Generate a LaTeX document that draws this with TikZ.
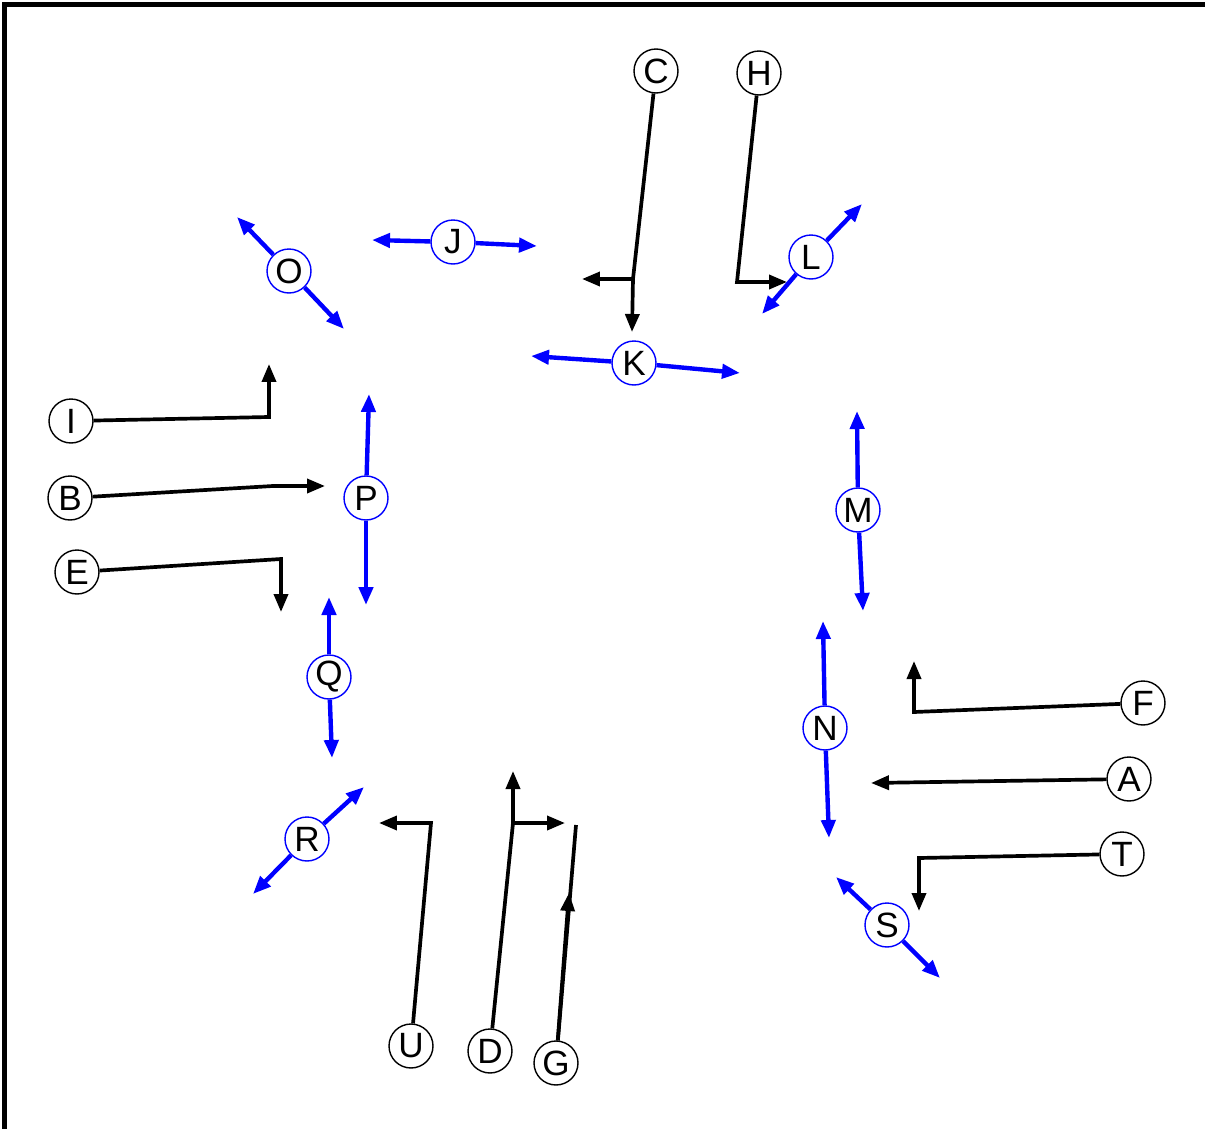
\documentclass[tikz,border=0pt]{standalone}
\usepackage{fontspec}
\setmainfont{Liberation Sans}
\usetikzlibrary{arrows.meta}

\begin{document}
\begin{tikzpicture}[x=0.02cm, y=-0.02cm,
    >={Triangle[length=3.6mm, width=2.8mm]},
    player/.style={circle, draw=black, fill=white, line width=0.8pt,
        minimum size=0.88cm, inner sep=0pt, font=\fontsize{20}{24}\selectfont},
    zone/.style={player, draw=blue},
    route/.style={line width=2.1pt, black},
    drop/.style={line width=2.5pt, blue, ->}]

    % Frame
    \useasboundingbox (0,0) rectangle (1205,1129);
    \clip (0,0) rectangle (1205,1129);
    \draw[line width=2.4pt] (4.5,1200) -- (4.5,4.5) -- (1260,4.5);

    % Offense
    \node[player] (C) at (656,71) {C};
    \node[player] (H) at (759,73) {H};
    \node[player] (I) at (71,421) {I};
    \node[player] (B) at (70,498) {B};
    \node[player] (E) at (77,572) {E};
    \node[player] (F) at (1143,703) {F};
    \node[player] (A) at (1129,779) {A};
    \node[player] (T) at (1122,854) {T};
    \node[player] (U) at (411,1046) {U};
    \node[player] (D) at (490,1051) {D};
    \node[player] (G) at (556,1063) {G};

    % Defense
    \node[zone] (J) at (453,242) {J};
    \node[zone] (O) at (289,271) {O};
    \node[zone] (L) at (811,257) {L};
    \node[zone] (K) at (634,363) {K};
    \node[zone] (P) at (366,498) {P};
    \node[zone] (M) at (858,510) {M};
    \node[zone] (Q) at (329,677) {Q};
    \node[zone] (N) at (825,728) {N};
    \node[zone] (R) at (307,839) {R};
    \node[zone] (S) at (887,925) {S};

    % Route points
    \coordinate (c1) at (633,279);
    \coordinate (c2) at (632,332);
    \coordinate (c3) at (582,279);
    \coordinate (h1) at (737,282);
    \coordinate (h2) at (787,282);
    \coordinate (i1) at (269,417);
    \coordinate (i2) at (269,364);
    \coordinate (b1) at (273,486);
    \coordinate (b2) at (325,486);
    \coordinate (e1) at (281,559);
    \coordinate (e2) at (281,612);
    \coordinate (f1) at (914,712);
    \coordinate (f2) at (914,661);
    \coordinate (a1) at (871,783);
    \coordinate (t1) at (919,858);
    \coordinate (t2) at (919,911);
    \coordinate (u1) at (431,823);
    \coordinate (u2) at (379,823);
    \coordinate (d1) at (513,823);
    \coordinate (d2) at (513,771);
    \coordinate (d3) at (565,823);
    \coordinate (g1) at (569,893);
    \coordinate (g2) at (576,825);

    % Routes
    \draw[route] (C) -- (c1);
    \draw[route, ->] (c1) -- (c2);
    \draw[route, ->] (c1) -- (c3);
    \draw[route, ->] (H) -- (h1) -- (h2);
    \draw[route, ->] (I) -- (i1) -- (i2);
    \draw[route, ->] (B) -- (b1) -- (b2);
    \draw[route, ->] (E) -- (e1) -- (e2);
    \draw[route, ->] (F) -- (f1) -- (f2);
    \draw[route, ->] (A) -- (a1);
    \draw[route, ->] (T) -- (t1) -- (t2);
    \draw[route, ->] (U) -- (u1) -- (u2);
    \draw[route] (D) -- (d1);
    \draw[route, ->] (d1) -- (d2);
    \draw[route, ->] (d1) -- (d3);
    \draw[route] (G) -- (g2);
    \draw[route, ->] (G) -- (g1);

    % Drops
    \draw[drop] (J) -- (372,240);
    \draw[drop] (J) -- (537,246);
    \draw[drop] (O) -- (237,217);
    \draw[drop] (O) -- (344,329);
    \draw[drop] (L) -- (862,204);
    \draw[drop] (L) -- (762,314);
    \draw[drop] (K) -- (531,356);
    \draw[drop] (K) -- (740,373);
    \draw[drop] (P) -- (369,394);
    \draw[drop] (P) -- (366,605);
    \draw[drop] (M) -- (857,411);
    \draw[drop] (M) -- (863,611);
    \draw[drop] (Q) -- (329,597);
    \draw[drop] (Q) -- (332,758);
    \draw[drop] (N) -- (823,621);
    \draw[drop] (N) -- (829,838);
    \draw[drop] (R) -- (364,787);
    \draw[drop] (R) -- (253,894);
    \draw[drop] (S) -- (836,877);
    \draw[drop] (S) -- (940,978);

\end{tikzpicture}
\end{document}
